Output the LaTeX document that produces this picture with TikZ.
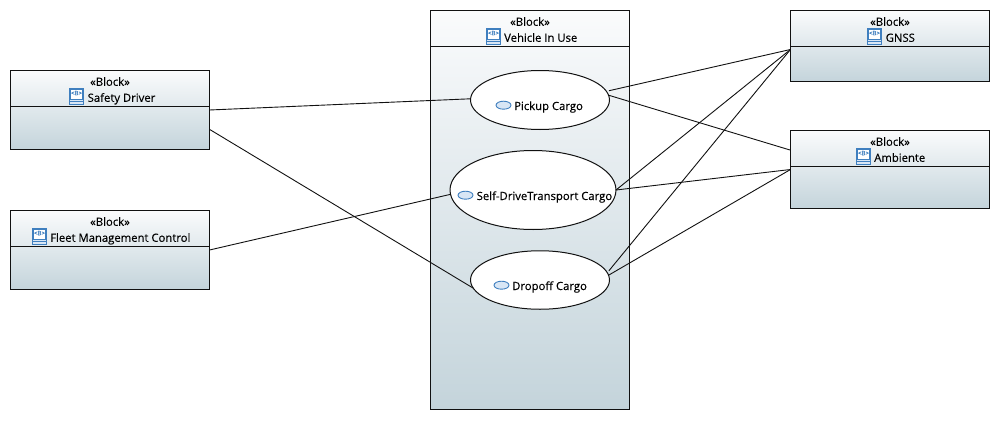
\documentclass[tikz,border=0pt]{standalone}
\usepackage{fontspec}
\setmainfont[FakeBold=0.25]{Open Sans}
\usetikzlibrary{shapes.geometric}
\definecolor{edgeblack}{HTML}{111111}
\definecolor{fadetop}{HTML}{FAFBFC}
\definecolor{fadebottom}{HTML}{C4D4DB}
\definecolor{iconblue}{HTML}{3F7FBF}
\definecolor{iconfill}{HTML}{D8E6F5}
\tikzset{
  blockbox/.style={rectangle,draw=edgeblack,line width=1pt,top color=fadetop,bottom color=fadebottom,inner sep=0pt,outer sep=0pt,minimum width=199pt},
  usecase/.style={ellipse,draw=edgeblack,line width=1pt,fill=white,inner sep=0pt,outer sep=0pt},
  assoc/.style={draw=edgeblack,line width=0.9pt},
  stereo/.style={anchor=base,inner sep=0pt,font=\fontsize{11.3}{12}\selectfont,text=black},
  label/.style={anchor=base west,inner sep=0pt,font=\fontsize{11.3}{12}\selectfont,text=black},
  ucicon/.style={ellipse,draw=iconblue,fill=iconfill,line width=0.9pt,inner sep=0pt,minimum width=15pt,minimum height=8pt},
  bicon/.style={rectangle,draw=iconblue,fill=white,line width=0.9pt,inner sep=0pt,minimum width=12.5pt,minimum height=14.5pt},
  bmark/.style={inner sep=0pt,font=\fontsize{6}{6}\selectfont,text=iconblue}
}
% name, centre x, centre y, height, title, icon left x, title left x
\newcommand{\umlblock}[7]{%
  \node[blockbox,minimum height=#4pt] (#1) at (#2,#3) {};
  \draw[edgeblack,line width=1pt] ([yshift=-36pt]#1.north west) -- ([yshift=-36pt]#1.north east);
  \node[stereo] (#1st) at (#2,{#3-#4/2+15.3}) {«Block»};
  \node[bicon] (#1ic) at ({#6+6.5},{#3-#4/2+26}) {};
  \fill[iconfill] ([yshift=5pt]#1ic.south west) rectangle (#1ic.south east);
  \draw[iconblue,line width=0.9pt] (#1ic.south west) rectangle (#1ic.north east)
     ([yshift=5pt]#1ic.south west) -- ([yshift=5pt]#1ic.south east)
     ([yshift=2.5pt]#1ic.south west) -- ([yshift=2.5pt]#1ic.south east);
  \node[bmark] (#1mk) at ({#6+6.5},{#3-#4/2+22.6}) {<B>};
  \node[label] (#1lb) at (#7,{#3-#4/2+31.3}) {#5};
}
% name, centre x, centre y, width, height, text, icon centre x, text left x
\newcommand{\umlcase}[8]{%
  \node[usecase,minimum width=#4pt,minimum height=#5pt] (#1) at (#2,#3) {};
  \node[ucicon] (#1ic) at (#7,{#3+5.2}) {};
  \node[label] (#1lb) at (#8,{#3+10}) {#6};
}
\begin{document}
\begin{tikzpicture}[x=1pt,y=-1pt]
\useasboundingbox (0,0) rectangle (1000,420);
\umlblock{driver}{110}{110}{79}{Safety Driver}{70}{87.5}
\umlblock{fleet}{110}{250}{79}{Fleet Management Control}{33}{50}
\umlblock{vehicle}{530}{210}{399}{Vehicle In Use}{487}{504}
\umlblock{gnss}{890}{46}{71}{GNSS}{868}{885.5}
\umlblock{amb}{890}{169.5}{78}{Ambiente}{857}{874}
\umlcase{pickup}{540}{100}{139}{59}{Pickup Cargo}{503.5}{514}
\umlcase{self}{533}{190}{166}{79}{Self-DriveTransport Cargo}{465.5}{476.5}
\umlcase{drop}{540}{280}{139}{58.5}{Dropoff Cargo}{501.5}{512}
\draw[assoc] (driver.east) -- (pickup.179);
\draw[assoc] (driver.-11.3) -- (drop.187.6);
\draw[assoc] (fleet.east) -- (self.183.4);
\draw[assoc] ([xshift=3pt]pickup.8.2) -- (gnss.182.3);
\draw[assoc] (pickup.4) -- (amb.169);
\draw[assoc] (self.east) -- (gnss.182.3);
\draw[assoc] (self.east) -- (amb.west);
\draw[assoc] ([xshift=3pt]drop.8.2) -- (gnss.182.3);
\draw[assoc] (drop.4) -- (amb.west);
\end{tikzpicture}
\end{document}
